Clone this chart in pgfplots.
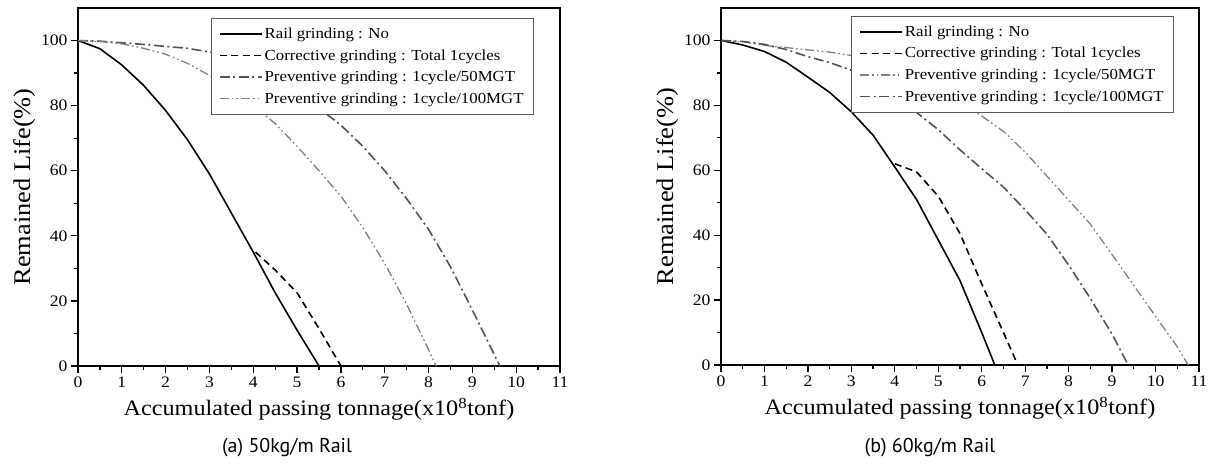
\documentclass[border=0pt]{standalone}
\usepackage{fontspec}
\setmainfont{Liberation Serif}[FakeStretch=1.1]
\newfontfamily\capfont{PT Sans}
\usepackage{pgfplots}
\pgfplotsset{compat=1.18}
\tikzset{
 dsh/.style={dash pattern=on 7pt off 4.5pt},
 dd/.style={dash pattern=on 10pt off 3.5pt on 2pt off 3.5pt},
 ddd/.style={dash pattern=on 9pt off 3pt on 1.6pt off 3pt on 1.6pt off 3pt},
}
\pgfplotsset{myax/.style={
 scale only axis, anchor=south west,
 xmin=0,xmax=11,ymin=0,ymax=110,
 xtick={0,...,11}, ytick={0,20,...,100},
 minor x tick num=1, minor y tick num=1,
 tick align=outside, xtick pos=bottom, ytick pos=left,
 major tick length=7pt, minor tick length=4pt,
 axis line style={line width=1.8pt},
 tick style={line width=1.3pt, black},
 tick label style={font=\fontsize{16}{18}\selectfont},
 /pgf/number format/assume math mode=true,
 xlabel={Accumulated passing tonnage(x10\textsuperscript{8}tonf)},
 ylabel={Remained Life(\%)},
 xlabel style={font=\fontsize{22}{25}\selectfont, yshift=-4pt},
 ylabel style={font=\fontsize{24}{26}\selectfont, yshift=-1pt},
 legend cell align=left,
 legend style={draw=black!65, line width=0.8pt, font=\fontsize{15.3}{18}\selectfont, anchor=north east, row sep=5.5pt, inner xsep=8pt, inner ysep=7.5pt},
 legend image code/.code={\draw[#1] (0pt,0pt) -- (42pt,0pt);},
 every axis plot/.append style={no marks, line width=1.6pt},
}}
\begin{document}
\begin{tikzpicture}
\useasboundingbox (0,0) rectangle (1213pt,467pt);
% ---------- (a) 50kg/m ----------
\begin{axis}[myax, at={(78pt,101pt)}, width=482pt, height=358pt,
  legend style={at={(0.946,0.972)}}]
\addplot[black] coordinates {(0,100)(0.5,97.5)(1,92.5)(1.5,86.2)(2,78.5)(2.5,69.5)(3,59)(3.5,47)(4,35)(4.5,22.5)(5,11)(5.5,0)};
\addlegendentry{Rail grinding : No}
\addplot[black, dsh] coordinates {(4.05,35)(4.5,29.5)(5,22.5)(5.5,11.5)(6,0)};
\addlegendentry{Corrective grinding : Total 1cycles}
\addplot[black!68, dd] coordinates {(0,100)(0.5,99.8)(1,99.3)(1.5,98.8)(2,98.2)(2.5,97.6)(3,96.5)(3.5,94.8)(4,92.2)(4.5,88.6)(5,84.2)(5.5,79.2)(6,74)(6.5,67.5)(7,60)(7.5,51.4)(8,42)(8.5,30.5)(9,17.2)(9.5,3.5)(9.63,0)};
\addlegendentry{Preventive grinding : 1cycle/50MGT}
\addplot[black!50, ddd, line width=1.3pt] coordinates {(0,100)(0.5,99.7)(1,99)(1.5,97.6)(2,95.8)(2.5,93)(3,89.3)(3.5,85)(4,80)(4.5,74.5)(5,67.5)(5.5,60)(6,52.2)(6.5,42.5)(7,31.5)(7.5,19)(8,5)(8.17,0)};
\addlegendentry{Preventive grinding : 1cycle/100MGT}
\end{axis}
% ---------- (b) 60kg/m ----------
\begin{axis}[myax, at={(721pt,102pt)}, width=478pt, height=357pt,
  legend style={at={(0.948,0.978)}}]
\addplot[black] coordinates {(0,100)(0.5,98.6)(1,96.6)(1.5,93.3)(2,88.7)(2.5,84)(3,78)(3.5,70.8)(4,61)(4.5,51)(5,38.5)(5.5,26)(6,10)(6.3,0)};
\addlegendentry{Rail grinding : No}
\addplot[black, dsh] coordinates {(4,62)(4.5,59.5)(5,52)(5.5,40.5)(6,25)(6.5,10)(6.83,0)};
\addlegendentry{Corrective grinding : Total 1cycles}
\addplot[black!50, ddd, line width=1.3pt] coordinates {(0,100)(0.5,99.6)(1,98.5)(1.5,97.8)(2,97.1)(2.5,96.4)(3,95.4)(3.5,93.8)(4,91.5)(4.5,88.5)(5,84.8)(5.5,81)(6,76.7)(6.5,72)(7,65.6)(7.5,58.2)(8,50.8)(8.5,43.4)(9,34)(9.5,24.5)(10,15)(10.5,5.6)(10.75,0)};
\addlegendentry{Preventive grinding : 1cycle/50MGT}
\addplot[black!68, dd] coordinates {(0,100)(0.5,99.7)(1,98.8)(1.5,97.2)(2,95)(2.5,93.2)(3,90.8)(3.5,87.3)(4,83)(4.5,77.8)(5,72.5)(5.5,66.3)(6,60.5)(6.5,54.8)(7,47.8)(7.5,40.3)(8,30.8)(8.5,20.5)(9,9.5)(9.37,0)};
\addlegendentry{Preventive grinding : 1cycle/100MGT}
\end{axis}
\node[font=\capfont\fontsize{20}{23}\selectfont] at (287pt,19pt) {(a) 50kg/m Rail};
\node[font=\capfont\fontsize{20}{23}\selectfont] at (930pt,19pt) {(b) 60kg/m Rail};
\end{tikzpicture}
\end{document}
